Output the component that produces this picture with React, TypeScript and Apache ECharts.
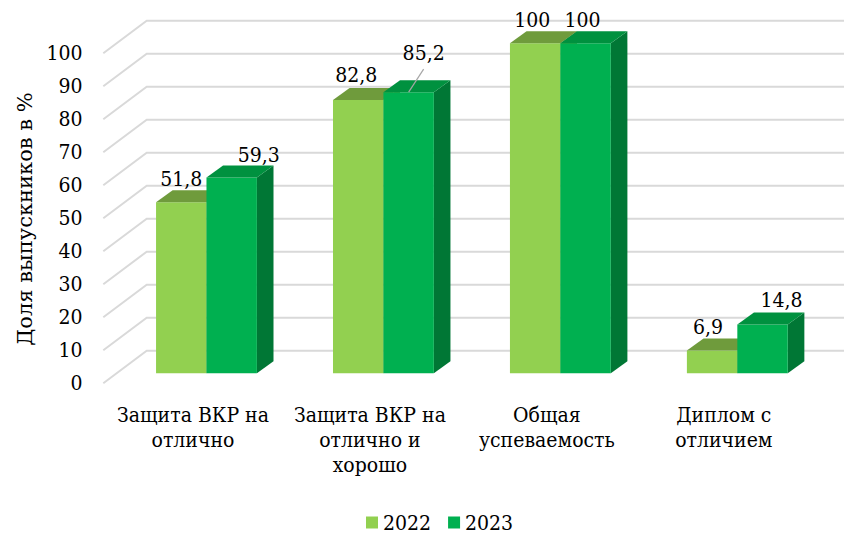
import React, { useEffect, useRef } from "react";
import * as echarts from "echarts";

const categories = [
  "Защита ВКР на\nотлично",
  "Защита ВКР на\nотлично и\nхорошо",
  "Общая\nуспеваемость",
  "Диплом с\nотличием",
];
const values2022 = [51.8, 82.8, 100, 6.9];
const values2023 = [59.3, 85.2, 100, 14.8];
const yTicks = [0, 10, 20, 30, 40, 50, 60, 70, 80, 90, 100];
const seriesNames = ["2022", "2023"];

// label nudges (layout only)
const labelNudge2022 = [[0, 0], [-2, -2], [-3, 0], [-4, -1]];
const labelNudge2023 = [[27, 0], [15, -16], [-3, 0], [19, -1]];

const FONT = "DejaVu Serif";
const FONT_C = "DejaVu Serif Condensed";

const PAL = [
  { front: "#92D050", top: "#6F9B3C", side: "#6F9B3C" },
  { front: "#00B050", top: "#00913F", side: "#007735" },
];

// 3D geometry
const PLANE_DX = 13.5; // front plane -> bar plane
const PLANE_DY = -10;
const DEPTH_DX = 16.6; // bar depth
const DEPTH_DY = -12;
const WALL_DX = 43.4; // front plane -> back wall
const WALL_DY = -32.6;

const fmt = (v: number) => String(v).replace(".", ",");

function makeBarSeries(idx: number, values: number[], nudges: number[][]) {
  const pal = PAL[idx];
  return {
    type: "custom",
    name: seriesNames[idx],
    clip: false,
    z: 3 + idx,
    itemStyle: { color: pal.front },
    data: values.map((v, i) => [i, v]),
    renderItem: (params: any, api: any) => {
      const ci = api.value(0);
      const v = api.value(1);
      const c = api.coord([ci, v]);
      const z = api.coord([ci, 0]);
      const band = api.size([1, 0])[0];
      const w = band * 0.285;
      const cx = c[0] + PLANE_DX;
      const top = c[1] + PLANE_DY;
      const bottom = z[1] + PLANE_DY;
      const left = idx === 0 ? cx - w : cx;
      const right = left + w;
      const children: any[] = [
        {
          type: "polygon",
          shape: {
            points: [
              [right, top],
              [right + DEPTH_DX, top + DEPTH_DY],
              [right + DEPTH_DX, bottom + DEPTH_DY],
              [right, bottom],
            ],
          },
          style: { fill: pal.side },
        },
        {
          type: "rect",
          shape: { x: left, y: top, width: w, height: bottom - top },
          style: { fill: pal.front },
        },
        {
          type: "polygon",
          shape: {
            points: [
              [left, top],
              [right, top],
              [right + DEPTH_DX, top + DEPTH_DY],
              [left + DEPTH_DX, top + DEPTH_DY],
            ],
          },
          style: { fill: pal.top },
        },
      ];
      const nd = nudges[params.dataIndex] || [0, 0];
      const lx = left + w / 2 + nd[0];
      const ly = top + DEPTH_DY - 11 + nd[1];
      if (nd[1] < -8) {
        children.push({
          type: "line",
          shape: { x1: lx, y1: ly + 16, x2: left + w / 2, y2: top },
          style: { stroke: "#A6A6A6", lineWidth: 1.2 },
        });
      }
      children.push({
        type: "text",
        x: lx,
        y: ly,
        style: {
          text: fmt(v),
          fill: "#000",
          fontSize: 21,
          fontFamily: FONT_C,
          align: "center",
          verticalAlign: "middle",
        },
      });
      return { type: "group", children };
    },
  };
}

export default function App() {
  const ref = useRef<HTMLDivElement>(null);
  useEffect(() => {
    document.body.style.margin = "0";
    if (!ref.current) return;
    const chart = echarts.init(ref.current, undefined, { renderer: "svg" });
    chart.setOption({
      animation: false,
      backgroundColor: "#fff",
      textStyle: { fontFamily: FONT },
      grid: { left: 104.5, right: 31.7, top: 53.3, bottom: 152.7, containLabel: false },
      legend: {
        data: seriesNames.map((n, i) => ({ name: n, itemStyle: { color: PAL[i].front } })),
        left: 361,
        top: 507,
        icon: "rect",
        itemWidth: 12,
        itemHeight: 12,
        itemGap: 17,
        selectedMode: false,
        textStyle: { fontSize: 21, fontFamily: FONT_C, color: "#000" },
      },
      xAxis: {
        type: "category",
        data: categories,
        axisLine: { show: false },
        axisTick: { show: false },
        splitLine: { show: false },
        axisLabel: {
          interval: 0,
          fontSize: 21,
          lineHeight: 25,
          margin: 19,
          color: "#000",
          fontFamily: FONT_C,
        },
      },
      yAxis: {
        type: "value",
        min: 0,
        max: 100,
        interval: 10,
        axisLine: { show: false },
        axisTick: { show: false },
        splitLine: { show: false },
        axisLabel: { fontSize: 21, margin: 22, color: "#000", fontFamily: FONT_C },
      },
      graphic: [
        {
          type: "text",
          x: 25,
          y: 219,
          rotation: Math.PI / 2,
          style: {
            text: "Доля выпускников в %",
            fill: "#000",
            fontSize: 21,
            fontFamily: FONT,
            align: "center",
            verticalAlign: "middle",
          },
        },
      ],
      series: [
        {
          type: "custom",
          name: "grid",
          clip: false,
          z: 1,
          silent: true,
          data: yTicks.map((t) => [0, t]),
          renderItem: (params: any, api: any) => {
            const y = api.coord([0, api.value(1)])[1];
            const x0 = params.coordSys.x - 1.2;
            return {
              type: "polyline",
              shape: {
                points: [
                  [x0, y],
                  [x0 + WALL_DX, y + WALL_DY],
                  [844, y + WALL_DY],
                ],
              },
              style: { stroke: "#D9D9D9", lineWidth: 2, fill: null },
            };
          },
        },
        makeBarSeries(0, values2022, labelNudge2022),
        makeBarSeries(1, values2023, labelNudge2023),
      ],
    });
    return () => chart.dispose();
  }, []);
  return <div ref={ref} style={{ width: 844, height: 536 }} />;
}
